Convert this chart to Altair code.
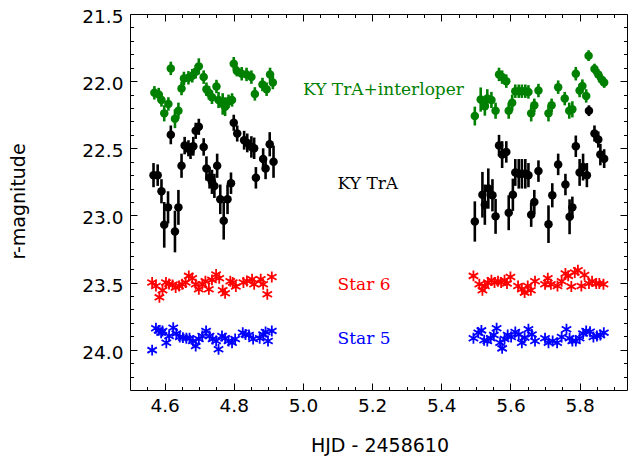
import altair as alt
import pandas as pd

# ---------------- data ----------------
# KY TrA + interloper (green)
g_x = [4.5705, 4.583, 4.591, 4.599, 4.611, 4.618, 4.630, 4.640, 4.649, 4.656,
       4.669, 4.680, 4.690, 4.699, 4.713, 4.721, 4.728, 4.737, 4.750, 4.756,
       4.768, 4.775, 4.785, 4.795, 4.800, 4.809, 4.823, 4.837, 4.851, 4.861,
       4.883, 4.895, 4.905, 4.913,
       5.497, 5.514, 5.526, 5.533, 5.545, 5.557, 5.567, 5.576, 5.588, 5.595,
       5.605, 5.614, 5.624, 5.633, 5.643, 5.652, 5.660, 5.669, 5.681, 5.710,
       5.719, 5.738, 5.757, 5.770, 5.779, 5.789, 5.800, 5.808, 5.819, 5.826,
       5.843, 5.854, 5.864, 5.871]
g_y = [22.087, 22.10, 22.14, 22.24, 22.17, 21.905, 22.28, 22.22, 22.055, 21.98,
       21.975, 21.96, 21.93, 21.89, 21.97, 22.06, 22.087, 22.12, 22.04, 22.14,
       22.17, 22.19, 22.15, 22.14, 21.87, 21.925, 21.945, 21.95, 21.97, 22.095,
       22.025, 22.06, 21.95, 22.01,
       22.26, 22.137, 22.187, 22.13, 22.14, 22.22, 21.95, 21.97, 22.00, 22.22,
       22.16, 22.075, 22.075, 22.075, 22.075, 22.08, 22.24, 22.18, 22.07, 22.24,
       22.18, 22.045, 22.13, 22.22, 22.21, 21.945, 22.07, 22.037, 22.11, 21.81,
       21.91, 21.95, 21.99, 22.01]
g_e = [0.05, 0.05, 0.05, 0.06, 0.05, 0.05, 0.07, 0.06, 0.05, 0.05,
       0.05, 0.05, 0.05, 0.06, 0.05, 0.05, 0.05, 0.05, 0.05, 0.06,
       0.08, 0.07, 0.05, 0.05, 0.05, 0.04, 0.05, 0.05, 0.05, 0.05,
       0.05, 0.05, 0.05, 0.05,
       0.07, 0.09, 0.07, 0.07, 0.06, 0.06, 0.05, 0.05, 0.05, 0.06,
       0.06, 0.05, 0.05, 0.05, 0.05, 0.05, 0.06, 0.05, 0.05, 0.06,
       0.05, 0.05, 0.05, 0.06, 0.06, 0.05, 0.05, 0.05, 0.05, 0.04,
       0.04, 0.04, 0.04, 0.04]

# KY TrA (black)
k_x = [4.568, 4.580, 4.591, 4.599, 4.610, 4.618, 4.630, 4.640, 4.649, 4.658,
       4.669, 4.675, 4.683, 4.690, 4.699, 4.713, 4.721, 4.730, 4.737, 4.744,
       4.752, 4.761, 4.771, 4.782, 4.792, 4.800, 4.810, 4.830, 4.839, 4.851,
       4.859, 4.864, 4.885, 4.892, 4.904, 4.915,
       5.497, 5.519, 5.526, 5.536, 5.548, 5.557, 5.567, 5.576, 5.588, 5.595,
       5.607, 5.614, 5.624, 5.633, 5.643, 5.652, 5.660, 5.669, 5.681, 5.710,
       5.721, 5.738, 5.759, 5.771, 5.779, 5.789, 5.800, 5.810, 5.821, 5.827,
       5.843, 5.854, 5.860, 5.871]
k_y = [22.70, 22.70, 22.82, 23.07, 22.94, 22.40, 23.12, 22.94, 22.63, 22.48,
       22.50, 22.52, 22.485, 22.37, 22.34, 22.49, 22.65, 22.72, 22.75, 22.78,
       22.63, 22.88, 23.04, 22.88, 22.76, 22.31, 22.39, 22.44, 22.46, 22.49,
       22.50, 22.72, 22.58, 22.65, 22.47, 22.60,
       23.045, 22.846, 22.92, 22.80, 22.85, 23.007, 22.48, 22.547, 22.527, 22.98,
       22.846, 22.68, 22.69, 22.69, 22.69, 22.70, 22.995, 22.90, 22.67, 23.065,
       22.85, 22.62, 22.77, 23.01, 22.94, 22.485, 22.68, 22.64, 22.70, 22.22,
       22.39, 22.435, 22.547, 22.577]
k_e = [0.09, 0.08, 0.09, 0.17, 0.12, 0.07, 0.155, 0.13, 0.09, 0.065,
       0.06, 0.06, 0.07, 0.06, 0.06, 0.065, 0.09, 0.08, 0.09, 0.09,
       0.09, 0.11, 0.14, 0.11, 0.08, 0.06, 0.06, 0.07, 0.07, 0.08,
       0.08, 0.08, 0.08, 0.08, 0.09, 0.12,
       0.15, 0.17, 0.15, 0.15, 0.12, 0.13, 0.08, 0.10, 0.08, 0.13,
       0.12, 0.10, 0.11, 0.11, 0.11, 0.09, 0.09, 0.09, 0.08, 0.14,
       0.09, 0.08, 0.08, 0.13, 0.08, 0.08, 0.10, 0.10, 0.09, 0.04,
       0.06, 0.06, 0.08, 0.07]

# Star 6 (red)
r_x = [4.564, 4.575, 4.585, 4.594, 4.604, 4.613, 4.623, 4.632, 4.642, 4.651,
       4.661, 4.670, 4.680, 4.690, 4.699, 4.709, 4.718, 4.728, 4.737, 4.749,
       4.758, 4.768, 4.775, 4.790, 4.797, 4.806, 4.828, 4.838, 4.853, 4.859,
       4.878, 4.885, 4.897, 4.910,
       5.493, 5.510, 5.519, 5.526, 5.535, 5.545, 5.554, 5.564, 5.573, 5.583,
       5.590, 5.600, 5.622, 5.633, 5.641, 5.650, 5.659, 5.671, 5.700, 5.708,
       5.717, 5.736, 5.748, 5.759, 5.767, 5.776, 5.786, 5.795, 5.805, 5.814,
       5.827, 5.836, 5.848, 5.857, 5.869]
r_y = [23.50, 23.525, 23.61, 23.557, 23.50, 23.51, 23.517, 23.537, 23.525, 23.512,
       23.50, 23.45, 23.468, 23.512, 23.55, 23.512, 23.49, 23.55, 23.48, 23.44,
       23.468, 23.557, 23.58, 23.49, 23.50, 23.53, 23.50, 23.488, 23.475, 23.512,
       23.475, 23.512, 23.587, 23.458,
       23.45, 23.512, 23.557, 23.525, 23.50, 23.483, 23.50, 23.49, 23.50, 23.483,
       23.507, 23.458, 23.525, 23.55, 23.575, 23.525, 23.557, 23.49, 23.512, 23.468,
       23.512, 23.525, 23.49, 23.433, 23.45, 23.53, 23.425, 23.408, 23.525, 23.443,
       23.507, 23.49, 23.507, 23.507, 23.512]

# Star 5 (blue)
b_x = [4.564, 4.575, 4.583, 4.590, 4.594, 4.605, 4.613, 4.625, 4.634, 4.644,
       4.653, 4.663, 4.672, 4.682, 4.690, 4.699, 4.709, 4.720, 4.730, 4.739,
       4.749, 4.756, 4.766, 4.775, 4.785, 4.795, 4.804, 4.826, 4.834, 4.844,
       4.856, 4.875, 4.885, 4.892, 4.899, 4.910,
       5.493, 5.507, 5.516, 5.524, 5.533, 5.543, 5.552, 5.560, 5.570, 5.576,
       5.583, 5.592, 5.602, 5.614, 5.624, 5.633, 5.641, 5.652, 5.662, 5.671,
       5.700, 5.710, 5.722, 5.735, 5.748, 5.762, 5.771, 5.779, 5.789, 5.800,
       5.810, 5.819, 5.830, 5.840, 5.850, 5.860, 5.870]
b_y = [24.003, 23.84, 23.856, 23.873, 23.86, 23.948, 23.898, 23.836, 23.88, 23.905,
       23.91, 23.915, 23.915, 23.935, 23.973, 23.92, 23.898, 23.86, 23.898, 23.92,
       23.935, 23.997, 23.898, 23.915, 23.935, 23.948, 23.92, 23.873, 23.886, 23.89,
       23.92, 23.915, 23.886, 23.868, 23.935, 23.86,
       23.915, 23.873, 23.856, 23.93, 23.935, 23.915, 23.89, 23.84, 23.948, 23.99,
       23.92, 23.89, 23.905, 23.868, 23.886, 23.948, 23.91, 23.848, 23.886, 23.935,
       23.915, 23.948, 23.935, 23.948, 23.905, 23.848, 23.915, 23.935, 23.935, 23.915,
       23.88, 23.86, 23.866, 23.905, 23.898, 23.89, 23.873]

# annotations
lab_text = ["KY TrA+interloper", "KY TrA", "Star 6", "Star 5"]
lab_x = [5.0, 5.1, 5.1, 5.1]
lab_y = [22.1, 22.8, 23.555, 23.955]
lab_col = ["#008000", "#000000", "#ff0000", "#0000ff"]

x_major = [4.6, 4.8, 5.0, 5.2, 5.4, 5.6, 5.8]
y_major = [21.5, 22.0, 22.5, 23.0, 23.5, 24.0]
x_minor = [round(4.5 + 0.05 * i, 2) for i in range(1, 29)]
x_minor = [v for v in x_minor if all(abs(v - m) > 1e-6 for m in x_major)]
y_minor = [round(21.5 + 0.1 * i, 1) for i in range(1, 28)]
y_minor = [v for v in y_minor if all(abs(v - m) > 1e-6 for m in y_major)]

# ---------------- chart ----------------
def frame(xs, ys, es=None):
    if es is None:
        es = [0.0] * len(xs)
    return pd.DataFrame({"hjd": xs, "mag": ys,
                         "lo": [y - e for y, e in zip(ys, es)],
                         "hi": [y + e for y, e in zip(ys, es)]})

XS = alt.Scale(domain=[4.5, 5.937], nice=False, zero=False)
YS = alt.Scale(domain=[21.5, 24.3], reverse=True, nice=False, zero=False)

ASTER = "M0,-1L0,1M-0.866,-0.5L0.866,0.5M-0.866,0.5L0.866,-0.5"

df_g = frame(g_x, g_y, g_e)
df_k = frame(k_x, k_y, k_e)
df_r = frame(r_x, r_y)
df_b = frame(b_x, b_y)


def bars(df, color):
    return alt.Chart(df).mark_rule(color=color, strokeWidth=2.6).encode(
        x=alt.X("hjd:Q", scale=XS, axis=None),
        y=alt.Y("lo:Q", scale=YS, axis=None),
        y2="hi:Q")


def dots(df, color):
    return alt.Chart(df).mark_circle(color=color, size=72, opacity=1).encode(
        x=alt.X("hjd:Q", scale=XS, axis=None),
        y=alt.Y("mag:Q", scale=YS, axis=None))


def stars(df, color):
    return alt.Chart(df).mark_point(shape=ASTER, filled=False, stroke=color,
                                    strokeWidth=1.8, size=120, opacity=1).encode(
        x=alt.X("hjd:Q", scale=XS, axis=None),
        y=alt.Y("mag:Q", scale=YS, axis=None))


common = dict(domain=False, grid=False, tickColor="black", tickWidth=1)


def axis_layer(xaxis, yaxis):
    return alt.Chart(df_g).mark_point(opacity=0).encode(
        x=alt.X("hjd:Q", scale=XS, axis=xaxis),
        y=alt.Y("mag:Q", scale=YS, axis=yaxis))


ax_major = axis_layer(
    alt.Axis(orient="bottom", values=x_major, format=".1f", tickSize=7, offset=-7,
             labelFont="DejaVu Sans", labelFontSize=18.5, labelColor="black",
             labelPadding=6, title="HJD - 2458610", titleFont="DejaVu Sans",
             titleFontSize=19, titleFontWeight="normal", titleColor="black",
             titleX=249.5, titleY=68, titleBaseline="alphabetic", titleAlign="center",
             **common),
    alt.Axis(orient="left", values=y_major, format=".1f", tickSize=7, offset=-7,
             labelFont="DejaVu Sans", labelFontSize=18.5, labelColor="black",
             labelPadding=7, labelOffset=2.5, title="r-magnitude", titleFont="DejaVu Sans",
             titleFontSize=19, titleFontWeight="normal", titleColor="black",
             titleAngle=270, titleX=-113, titleY=187, titleBaseline="alphabetic",
             titleAlign="center", **common))

ax_minor = axis_layer(
    alt.Axis(orient="bottom", values=x_minor, labels=False, tickSize=3.5, offset=-3.5,
             title=None, **common),
    alt.Axis(orient="left", values=y_minor, labels=False, tickSize=3.5, offset=-3.5,
             title=None, **common))

ax_major2 = axis_layer(
    alt.Axis(orient="top", values=x_major, labels=False, tickSize=7, offset=-7,
             title=None, **common),
    alt.Axis(orient="right", values=y_major, labels=False, tickSize=7, offset=-7,
             title=None, **common))

ax_minor2 = axis_layer(
    alt.Axis(orient="top", values=x_minor, labels=False, tickSize=3.5, offset=-3.5,
             title=None, **common),
    alt.Axis(orient="right", values=y_minor, labels=False, tickSize=3.5, offset=-3.5,
             title=None, **common))

df_lab = pd.DataFrame({"x": lab_x, "y": lab_y, "t": lab_text, "c": lab_col})
labels = alt.Chart(df_lab).mark_text(font="DejaVu Serif", fontSize=17, align="left",
                                     baseline="alphabetic").encode(
    x=alt.X("x:Q", scale=XS, axis=None),
    y=alt.Y("y:Q", scale=YS, axis=None),
    text="t:N",
    color=alt.Color("c:N", scale=None))

chart = alt.layer(
    ax_major, ax_minor, ax_major2, ax_minor2,
    stars(df_b, "#0000ff"), stars(df_r, "#ff0000"),
    bars(df_k, "#000000"), dots(df_k, "#000000"),
    bars(df_g, "#008000"), dots(df_g, "#008000"),
    labels,
).resolve_axis(x="independent", y="independent").properties(
    width=497, height=376,
    autosize=alt.AutoSizeParams(type="none"),
    padding={"left": 122, "top": 6, "right": 1, "bottom": 66},
).configure_view(stroke="black", strokeWidth=1)

chart.save("out.html", embed_options={"renderer": "svg", "actions": False})
